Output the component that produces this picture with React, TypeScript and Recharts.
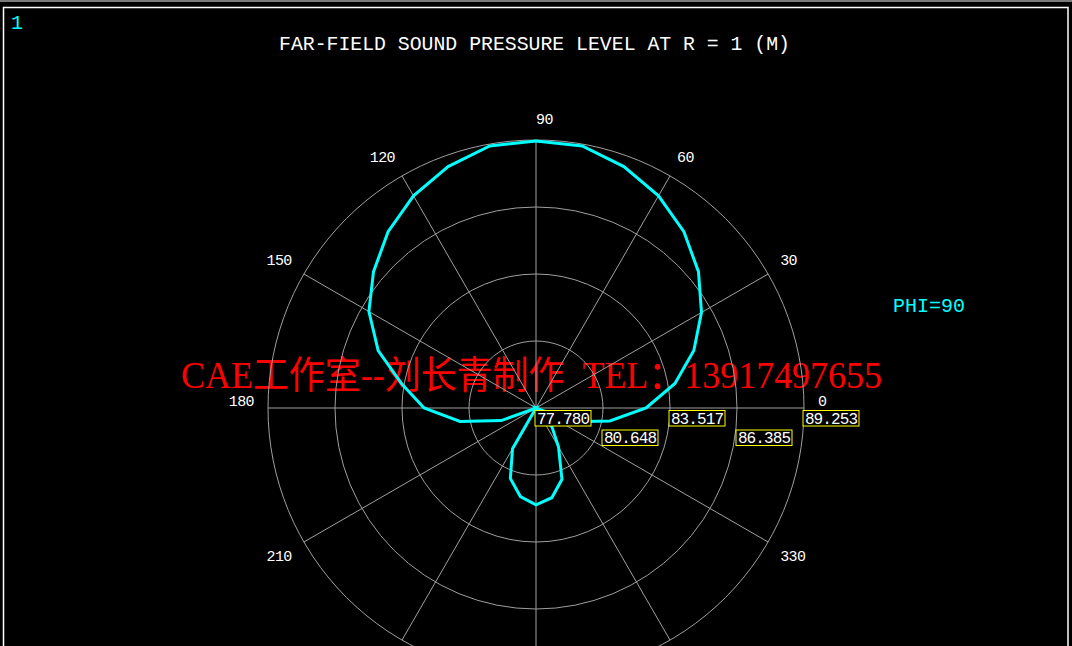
import React from 'react';
import { RadarChart, Radar, PolarGrid, PolarAngleAxis, PolarRadiusAxis } from 'recharts';

// Polar angle (degrees) of each sample
const angles = [0, 10, 20, 30, 40, 50, 60, 70, 80, 90, 100, 110, 120, 130, 140, 150, 160, 170,
  180, 190, 200, 210, 220, 230, 240, 250, 260, 270, 280, 290, 300, 310, 320, 330, 340, 350];
// Sound pressure level (dB) at R = 1 m, PHI = 90
const spl = [82.49, 83.82, 84.97, 85.96, 86.86, 87.63, 88.27, 88.78, 89.17, 89.21, 89.17, 88.78,
  88.27, 87.63, 86.86, 86.04, 84.97, 83.60, 82.57, 81.08, 79.36, 77.78, 77.78, 77.78,
  79.79, 80.99, 81.63, 81.93, 81.68, 81.03, 79.71, 78.85, 77.78, 77.78, 79.49, 80.99];
const angleTicks = [0, 30, 60, 90, 120, 150, 180, 210, 240, 270, 300, 330];
const radiusTicks = [77.78, 80.648, 83.517, 86.385, 89.253];
const radiusDomain = [77.78, 89.253];

const titleText = 'FAR-FIELD SOUND PRESSURE LEVEL AT R = 1 (M)';
const windowNo = '1';
const phiText = 'PHI=90';
const watermark = 'CAE工作室--刘长青制作\u00A0\u00A0TEL：13917497655';

const data = angles.map((a, i) => ({ angle: a, spl: spl[i] }));

const MONO = '"Liberation Mono", "DejaVu Sans Mono", monospace';
const VIEW_H = 646;

const AngleTick = (props: any) => {
  const { x, y, payload } = props;
  const a = Number(payload.value);
  const rad = (a * Math.PI) / 180;
  const c = Math.cos(rad);
  const s = Math.sin(rad);
  const anchor = c >= -1e-6 ? 'start' : 'end';
  const upper = s >= -1e-6;
  // labels that fall below the visible window are not drawn (as in the original plot window)
  if (y + 12 > VIEW_H) return null;
  return (
    <text
      x={x}
      y={y}
      dy={upper ? -2 : 12}
      textAnchor={anchor}
      fill="#ffffff"
      fontSize={15}
      letterSpacing={-0.6}
      fontFamily={MONO}
    >
      {payload.value}
    </text>
  );
};

const RadiusTick = (props: any) => {
  const { x, y, payload, index } = props;
  const top = y + (index % 2 === 1 ? 22 : 2.5);
  return (
    <g>
      <rect x={x - 1} y={top} width={56} height={15.5} fill="#000000" stroke="#ffff00" strokeWidth={1} />
      <text
        x={x + 27}
        y={top + 13}
        textAnchor="middle"
        fill="#ffffff"
        fontSize={16}
        letterSpacing={-0.9}
        fontFamily={MONO}
      >
        {Number(payload.value).toFixed(3)}
      </text>
    </g>
  );
};

export default function App() {
  return (
    <div
      style={{
        position: 'fixed',
        left: 0,
        top: 0,
        width: 1072,
        height: 646,
        background: '#000000',
        overflow: 'hidden',
      }}
    >
      <svg width={1072} height={646} style={{ position: 'absolute', left: 0, top: 0 }}>
        <rect x={0} y={0} width={1072} height={2} fill="#7a7a7a" />
        <rect x={3.5} y={7.5} width={1064.5} height={700} fill="none" stroke="#ffffff" strokeWidth={1.5} />
        <text x={11} y={29} fill="#00ffff" fontSize={20} fontFamily={MONO}>{windowNo}</text>
        <text
          x={279}
          y={50}
          fill="#ffffff"
          fontSize={21}
          textLength={511}
          lengthAdjust="spacingAndGlyphs"
          fontFamily={MONO}
        >
          {titleText}
        </text>
        <text
          x={893}
          y={312}
          fill="#00ffff"
          fontSize={21}
          textLength={72}
          lengthAdjust="spacingAndGlyphs"
          fontFamily={MONO}
        >
          {phiText}
        </text>
        <text
          x={181}
          y={388}
          fill="#ff0000"
          fontSize={38}
          textLength={701}
          lengthAdjust="spacingAndGlyphs"
          style={{ whiteSpace: 'pre' }}
          fontFamily='"Liberation Serif", "Noto Sans CJK SC", serif'
        >
          {watermark}
        </text>
      </svg>
      <div style={{ position: 'absolute', left: 0, top: 0 }}>
        <RadarChart
          width={1072}
          height={646}
          data={data}
          cx={536}
          cy={408}
          innerRadius={0}
          outerRadius={268}
          startAngle={0}
          endAngle={360}
          margin={{ top: 0, right: 0, bottom: 0, left: 0 }}
        >
          <PolarGrid gridType="circle" stroke="#a0a0a0" strokeWidth={1} />
          <PolarAngleAxis
            dataKey="angle"
            type="number"
            domain={[0, 360]}
            ticks={angleTicks}
            tick={<AngleTick />}
            tickSize={14}
            tickLine={false}
            axisLine={false}
          />
          <Radar
            dataKey="spl"
            stroke="#00ffff"
            strokeWidth={3}
            fill="none"
            fillOpacity={0}
            dot={false}
            isAnimationActive={false}
          />
          <PolarRadiusAxis
            angle={0}
            type="number"
            domain={radiusDomain}
            ticks={radiusTicks}
            allowDataOverflow
            axisLine={false}
            tickLine={false}
            tick={<RadiusTick />}
          />
        </RadarChart>
      </div>
    </div>
  );
}
